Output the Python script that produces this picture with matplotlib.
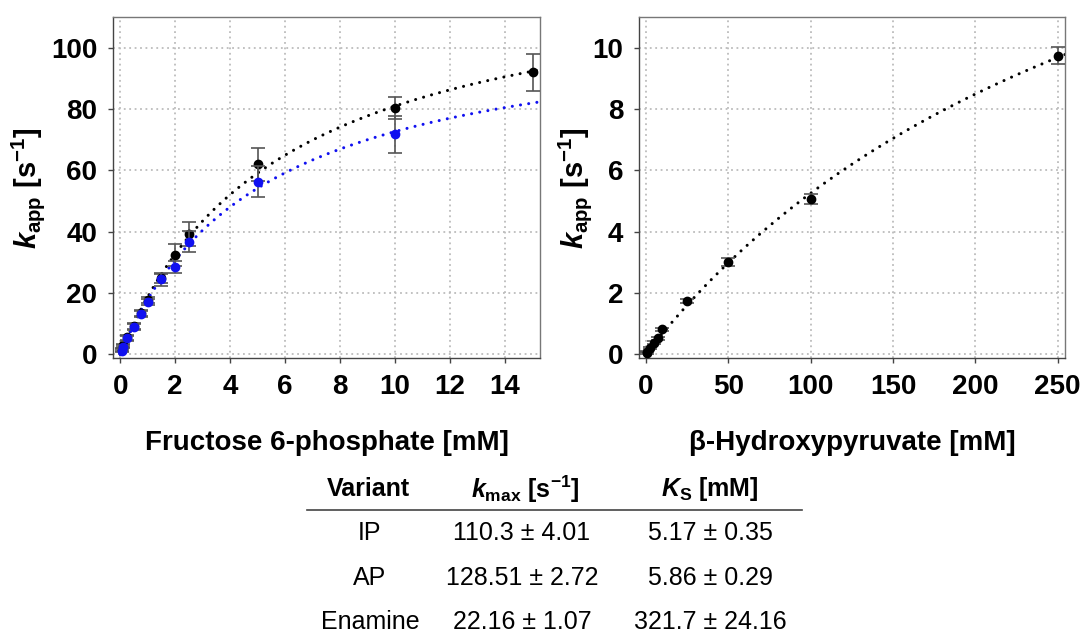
import numpy as np
import matplotlib
matplotlib.use("Agg")
import matplotlib.pyplot as plt

plt.rcParams['font.family'] = ['Liberation Sans', 'DejaVu Sans']
plt.rcParams['mathtext.fontset'] = 'custom'
plt.rcParams['mathtext.rm'] = 'Liberation Sans:bold'
plt.rcParams['mathtext.bf'] = 'Liberation Sans:bold'
plt.rcParams['mathtext.it'] = 'Liberation Sans:bold:italic'
plt.rcParams['axes.unicode_minus'] = False

# ---- data: Fructose 6-phosphate ----
f6p_conc = [0.05, 0.1, 0.25, 0.5, 0.75, 1.0, 1.5, 2.0, 2.5, 5, 10, 15]
ap_kapp = [1.5, 3.0, 5.6, 9.2, 13.6, 17.6, 24.8, 32.4, 39.2, 62.1, 80.4, 92.0]
ap_err = [0.5, 0.5, 0.8, 1.0, 1.0, 1.0, 1.5, 3.5, 4.0, 5.4, 3.5, 6.0]
ip_conc = [0.05, 0.1, 0.25, 0.5, 0.75, 1.0, 1.5, 2.0, 2.5, 5, 10]
ip_kapp = [1.2, 2.5, 5.3, 9.0, 13.3, 17.2, 24.5, 28.6, 36.7, 56.4, 71.8]
ip_err = [0.5, 0.5, 0.8, 1.0, 1.0, 1.0, 2.2, 2.0, 3.4, 5.2, 6.0]

# ---- data: beta-Hydroxypyruvate (enamine) ----
hpa_conc = [0.5, 1, 2.5, 5, 7.5, 10, 25, 50, 100, 250]
en_kapp = [0.04, 0.08, 0.2, 0.38, 0.52, 0.82, 1.74, 3.0, 5.08, 9.75]
en_err = [0.02, 0.02, 0.03, 0.04, 0.05, 0.05, 0.08, 0.13, 0.16, 0.28]

# ---- table ----
variants = ['IP', 'AP', 'Enamine']
kmax = [110.3, 128.51, 22.16]
kmax_err = [4.01, 2.72, 1.07]
ks = [5.17, 5.86, 321.7]
ks_err = [0.35, 0.29, 24.16]
kmax_txt = ['110.3', '128.51', '22.16']
kmax_err_txt = ['4.01', '2.72', '1.07']
ks_txt = ['5.17', '5.86', '321.7']
ks_err_txt = ['0.35', '0.29', '24.16']

W, H = 1080, 634
fig = plt.figure(figsize=(W / 100, H / 100), dpi=100)

def ax_rect(x0, y0, x1, y1):
    return [x0 / W, 1 - y1 / H, (x1 - x0) / W, (y1 - y0) / H]

ax1 = fig.add_axes(ax_rect(113.3, 17.3, 540, 358.3))
ax2 = fig.add_axes(ax_rect(639.3, 17.3, 1065, 358.3))

BLUE = '#1010f0'
ERRC = '#555555'
fit_kw = dict(lw=2.2, linestyle=(0, (0.01, 2.7)), dash_capstyle='round', zorder=2)

def mm(s, vmax, k):
    s = np.asarray(s, dtype=float)
    return vmax * s / (k + s)

def style(ax):
    ax.grid(True, color='#bcbcbc', linestyle=(0, (1, 2)), linewidth=1.3)
    ax.set_axisbelow(True)
    for side in ['left', 'bottom']:
        ax.spines[side].set_color('#444444')
    for side in ['top', 'right']:
        ax.spines[side].set_color('#777777')
    for sp in ax.spines.values():
        sp.set_linewidth(1.0)
    ax.tick_params(direction='out', length=3.5, width=1, color='#444444',
                   labelsize=20, pad=8)
    for lab in ax.get_xticklabels() + ax.get_yticklabels():
        lab.set_fontweight('bold')

LBL = 20
ylab = r'$k_{\mathrm{app}}$ [s$^{\mathrm{-1}}$]'

# left plot
xs1 = np.linspace(0, 15.27, 300)
ax1.plot(xs1, mm(xs1, kmax[1], ks[1]), color='black', **fit_kw)
ax1.plot(xs1, mm(xs1, kmax[0], ks[0]), color=BLUE, **fit_kw)
ax1.errorbar(f6p_conc, ap_kapp, yerr=ap_err, fmt='o', color='black', ms=6,
             ecolor=ERRC, elinewidth=1.2, capsize=5, capthick=1.2, zorder=3)
ax1.errorbar(ip_conc, ip_kapp, yerr=ip_err, fmt='o', color=BLUE, ms=6,
             ecolor=ERRC, elinewidth=1.2, capsize=5, capthick=1.2, zorder=4)
ax1.set_xlim(-0.25, 15.27)
ax1.set_ylim(-1.3, 110)
ax1.set_xticks(np.arange(0, 15, 2))
ax1.set_yticks(np.arange(0, 101, 20))
style(ax1)
ax1.set_xlabel('Fructose 6-phosphate [mM]', fontsize=LBL, fontweight='bold')
ax1.xaxis.set_label_coords(0.5, -0.21)
ax1.set_ylabel(ylab, fontsize=LBL + 1, fontweight='bold')
ax1.yaxis.set_label_coords(-0.155, 0.5)

# right plot
xs2 = np.linspace(0, 254.4, 300)
ax2.plot(xs2, mm(xs2, kmax[2], ks[2]), color='black', **fit_kw)
ax2.errorbar(hpa_conc, en_kapp, yerr=en_err, fmt='o', color='black', ms=6,
             ecolor=ERRC, elinewidth=1.2, capsize=5, capthick=1.2, zorder=3)
ax2.set_xlim(-3.9, 254.4)
ax2.set_ylim(-0.13, 11)
ax2.set_xticks(np.arange(0, 251, 50))
ax2.set_yticks(np.arange(0, 11, 2))
style(ax2)
ax2.set_xlabel('β-Hydroxypyruvate [mM]', fontsize=LBL, fontweight='bold')
ax2.xaxis.set_label_coords(0.5, -0.21)
ax2.set_ylabel(ylab, fontsize=LBL + 1, fontweight='bold')
ax2.yaxis.set_label_coords(-0.106, 0.5)

# table
def fx(px):
    return px / W

def fy(py):
    return 1 - py / H

col_x = [368, 525, 710]
hdr_y = 489
row_y = [533, 578, 622]
tfs = 18
fig.text(fx(col_x[0]), fy(hdr_y), 'Variant', ha='center', va='center',
         fontsize=tfs, fontweight='bold')
fig.text(fx(col_x[1]), fy(hdr_y), r'$k_{\mathrm{max}}$ [s$^{\mathrm{-1}}$]', ha='center',
         va='center', fontsize=tfs, fontweight='bold')
fig.text(fx(col_x[2]), fy(hdr_y), r'$K_{\mathrm{S}}$ [mM]', ha='center', va='center',
         fontsize=tfs, fontweight='bold')
fig.add_artist(plt.Line2D([fx(307), fx(802)], [fy(510), fy(510)],
                          color='#444444', lw=1.2, transform=fig.transFigure))
for i, v in enumerate(variants):
    fig.text(fx(col_x[0] + 2), fy(row_y[i]), v, ha='center', va='center', fontsize=tfs)
    fig.text(fx(col_x[1] - 3), fy(row_y[i]), f'{kmax_txt[i]} ± {kmax_err_txt[i]}',
             ha='center', va='center', fontsize=tfs)
    fig.text(fx(col_x[2]), fy(row_y[i]), f'{ks_txt[i]} ± {ks_err_txt[i]}',
             ha='center', va='center', fontsize=tfs)

fig.savefig('out.png', dpi=100)
